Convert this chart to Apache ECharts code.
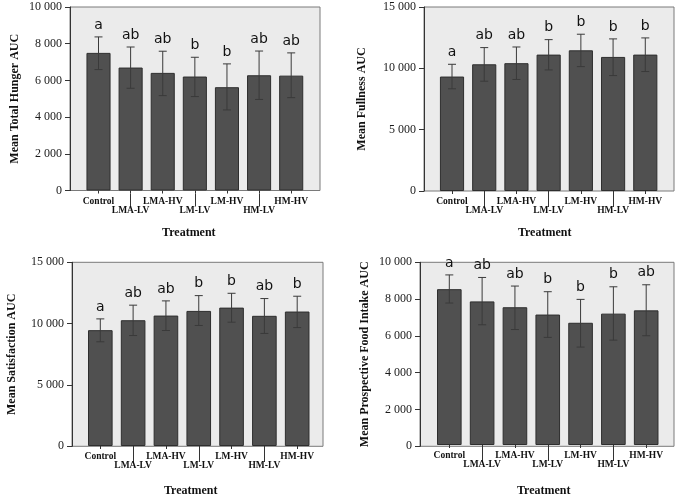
<!DOCTYPE html>
<html><head><meta charset="utf-8">
<script src="https://cdn.jsdelivr.net/npm/echarts@6/dist/echarts.min.js"></script>
<style>html,body{margin:0;padding:0;background:#fff}#c{width:679px;height:498px}</style>
</head><body><div id="c"></div>
<script>
const categories = ['Control','LMA-LV','LMA-HV','LM-LV','LM-HV','HM-LV','HM-HV'];

const hungerMean = [7500, 6700, 6410, 6210, 5630, 6280, 6260];
const hungerLow  = [6590, 5570, 5170, 5120, 4390, 4960, 5060];
const hungerHigh = [8370, 7820, 7590, 7260, 6900, 7600, 7500];
const hungerLetters = ['a','ab','ab','b','b','ab','ab'];

const fullnessMean = [9330, 10330, 10420, 11120, 11470, 10930, 11120];
const fullnessLow  = [8330, 8950, 9090, 9870, 10140, 9410, 9740];
const fullnessHigh = [10330, 11690, 11740, 12340, 12780, 12400, 12480];
const fullnessLetters = ['a','ab','ab','b','b','b','b'];

const satisfactionMean = [9460, 10270, 10650, 11030, 11300, 10630, 10980];
const satisfactionLow  = [8510, 9020, 9430, 9840, 10110, 9190, 9670];
const satisfactionHigh = [10380, 11500, 11850, 12280, 12470, 12040, 12230];
const satisfactionLetters = ['a','ab','ab','b','b','ab','b'];

const pfiMean = [8530, 7860, 7540, 7140, 6690, 7190, 7370];
const pfiLow  = [7770, 6580, 6320, 5890, 5360, 5740, 5980];
const pfiHigh = [9310, 9170, 8700, 8390, 7970, 8660, 8770];
const pfiLetters = ['a','ab','ab','b','b','b','ab'];

const yTitles = ['Mean Total Hunger AUC','Mean Fullness AUC','Mean Satisfaction AUC','Mean Prospective Food Intake AUC'];
const xTitle = 'Treatment';
const yMax = [10000, 15000, 15000, 10000];
const yInterval = [2000, 5000, 5000, 2000];

const panels = [
  {mean: hungerMean, low: hungerLow, high: hungerHigh, letters: hungerLetters},
  {mean: fullnessMean, low: fullnessLow, high: fullnessHigh, letters: fullnessLetters},
  {mean: satisfactionMean, low: satisfactionLow, high: satisfactionHigh, letters: satisfactionLetters},
  {mean: pfiMean, low: pfiLow, high: pfiHigh, letters: pfiLetters}
];

// layout: box (background grid) and data grid per panel
const layout = [
  {box:{left:70, top:7, width:250, height:183.5}, data:{left:82.45, width:224.8}, nameGap:49, tShift:6, xGap:36},
  {box:{left:424, top:7, width:250, height:184}, data:{left:435.9, width:225.5}, nameGap:56, tShift:4, xGap:36},
  {box:{left:72, top:262.3, width:251, height:184}, data:{left:83.9, width:229.7}, nameGap:54, tShift:8, xGap:39},
  {box:{left:420, top:262.3, width:254, height:184}, data:{left:432.9, width:229.7}, nameGap:49, tShift:4, xGap:40}
];

const serif = '"Liberation Serif","Times New Roman",serif';
const fmt = v => String(v).replace(/\B(?=(\d{3})+(?!\d))/g, ' ');

const grid = [], xAxis = [], yAxis = [], series = [];
panels.forEach((p, k) => {
  const L = layout[k];
  const gBox = grid.length;
  grid.push({left:L.box.left, top:L.box.top, width:L.box.width, height:L.box.height,
    show:true, backgroundColor:'#ebebeb', borderColor:'#7a7a7a', borderWidth:1});
  const gData = grid.length;
  grid.push({left:L.data.left, top:L.box.top, width:L.data.width, height:L.box.height});

  xAxis.push({gridIndex:gBox, type:'value', show:false, min:0, max:1});
  yAxis.push({gridIndex:gBox, type:'value', min:0, max:yMax[k], interval:yInterval[k],
    name:yTitles[k], nameLocation:'middle', nameGap:L.nameGap,
    nameTextStyle:{fontFamily:serif, fontWeight:'bold', fontSize:12, color:'#111'},
    axisLine:{show:true, lineStyle:{color:'#333', width:1}},
    axisTick:{show:true, length:5, lineStyle:{color:'#333'}},
    axisLabel:{formatter:fmt, fontFamily:serif, fontSize:12, color:'#1a1a1a', margin:8},
    splitLine:{show:false}});

  const xData = xAxis.length;
  xAxis.push({gridIndex:gData, type:'category', data:categories, position:'bottom',
    name:xTitle, nameLocation:'middle', nameGap:L.xGap,
    nameTextStyle:{fontFamily:serif, fontWeight:'bold', fontSize:12, color:'#111', padding:[0, 2*L.tShift, 0, 0]},
    axisLine:{show:false},
    axisTick:{show:true, alignWithLabel:true, length:3, lineStyle:{color:'#333'}},
    axisLabel:{interval:0, margin:6,
      formatter:(v, i) => (i % 2 ? '{lo|' + v + '}' : '{hi|' + v + '}'),
      rich:{
        hi:{fontFamily:serif, fontWeight:'bold', fontSize:9.5, color:'#111'},
        lo:{fontFamily:serif, fontWeight:'bold', fontSize:9.5, color:'#111', padding:[9,0,0,0]}
      }}});
  xAxis.push({gridIndex:gData, type:'category', data:categories, position:'bottom', offset:3,
    axisLine:{show:false}, axisLabel:{show:false},
    axisTick:{show:true, alignWithLabel:true, length:13, interval:(i) => i % 2 === 1, lineStyle:{color:'#333'}}});
  const yData = yAxis.length;
  yAxis.push({gridIndex:gData, type:'value', min:0, max:yMax[k], interval:yInterval[k], show:false, splitLine:{show:false}});

  series.push({type:'bar', xAxisIndex:xData, yAxisIndex:yData, data:p.mean, barWidth:'75%',
    itemStyle:{color:'#505050', borderColor:'#2e2e2e', borderWidth:1}, silent:true});

  series.push({type:'custom', xAxisIndex:xData, yAxisIndex:yData,
    data:p.mean.map((m, i) => [i, p.low[i], p.high[i]]),
    renderItem:(params, api) => {
      const i = api.value(0);
      const lo = api.coord([i, api.value(1)]);
      const hi = api.coord([i, api.value(2)]);
      const w = 4;
      const st = {stroke:'#3a3a3a', lineWidth:1};
      return {type:'group', children:[
        {type:'line', shape:{x1:hi[0], y1:hi[1], x2:lo[0], y2:lo[1]}, style:st},
        {type:'line', shape:{x1:hi[0]-w, y1:hi[1], x2:hi[0]+w, y2:hi[1]}, style:st},
        {type:'line', shape:{x1:lo[0]-w, y1:lo[1], x2:lo[0]+w, y2:lo[1]}, style:st},
        {type:'text', x:hi[0], y:hi[1]-5, style:{text:p.letters[i], fill:'#111',
          font:'14px "DejaVu Sans", sans-serif', align:'center', verticalAlign:'bottom'}}
      ]};
    }, z:5});
});

const chart = echarts.init(document.getElementById('c'), null, {renderer:'canvas'});
chart.setOption({animation:false, backgroundColor:'#fff', grid, xAxis, yAxis, series});
</script></body></html>
